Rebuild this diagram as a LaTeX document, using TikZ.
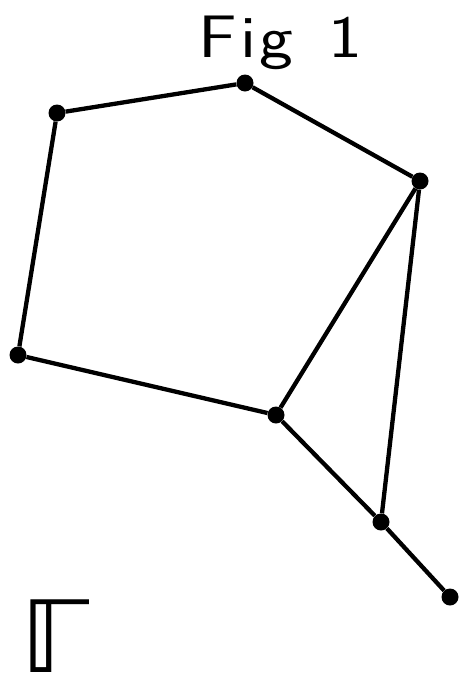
\documentclass[tikz,border=0pt]{standalone}
\usepackage{fontspec}
\newfontfamily\djv{DejaVu Sans}
\begin{document}
\begin{tikzpicture}[x=1pt,y=-1pt,
  vtx/.style={circle,fill=black,inner sep=0pt,minimum size=17pt},
  edge/.style={line width=4.3pt}]
\useasboundingbox (0,0) rectangle (460,675);
\node[vtx] (A) at (57,113) {};
\node[vtx] (B) at (245,83) {};
\node[vtx] (C) at (420,181) {};
\node[vtx] (D) at (18,355) {};
\node[vtx] (E) at (276,415) {};
\node[vtx] (F) at (381,522) {};
\node[vtx] (G) at (450,597) {};
\draw[edge] (A) -- (B) -- (C) -- (E) -- (D) -- (A);
\draw[edge] (C) -- (F) -- (G);
\draw[edge] (E) -- (F);
\node[anchor=base west,font=\sffamily\fontsize{60}{62}\selectfont,inner sep=0pt] (T) at (198,57) {\scalebox{1.2}[1]{F\kern3pt i\kern3pt g\kern10pt\ 1}};
\node[anchor=base west,inner sep=0pt,font=\djv\fontsize{95}{98}\selectfont] (Gam) at (20,672) {\scalebox{1.12}[1.05]{ℾ}};
\end{tikzpicture}
\end{document}
